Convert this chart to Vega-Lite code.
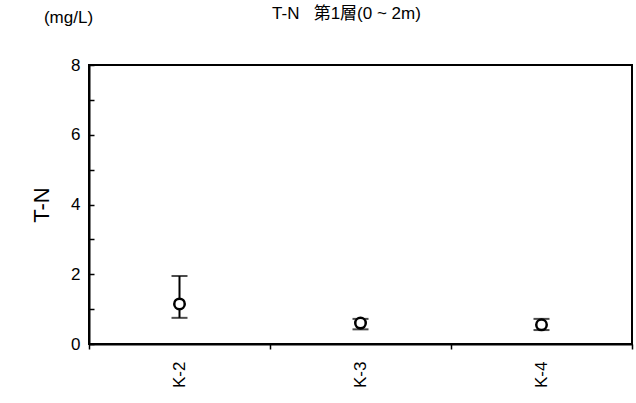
{
  "$schema": "https://vega.github.io/schema/vega-lite/v6.json",
  "autosize": "none",
  "width": 543,
  "height": 279,
  "padding": {"left": 89, "top": 65, "right": 4, "bottom": 59},
  "background": "white",
  "config": {
    "font": "Liberation Sans, Noto Sans CJK JP",
    "view": {"stroke": "black", "strokeWidth": 2},
    "axis": {"grid": false, "domainColor": "black", "tickColor": "black", "labelColor": "black", "titleColor": "black", "labelFont": "Liberation Sans", "titleFont": "Liberation Sans"}
  },
  "title": {
    "text": "T-N\u00a0\u00a0\u00a0第1層(0 ~ 2m)",
    "fontSize": 17,
    "fontWeight": "normal",
    "font": "Liberation Sans, Noto Sans CJK JP",
    "color": "black",
    "anchor": "middle",
    "offset": -15,
    "dx": -14
  },
  "data": {
    "values": [
      {"site": "K-2", "mean": 1.15, "lo": 0.75, "hi": 1.95},
      {"site": "K-3", "mean": 0.6, "lo": 0.42, "hi": 0.72},
      {"site": "K-4", "mean": 0.55, "lo": 0.4, "hi": 0.72}
    ]
  },
  "resolve": {"axis": {"y": "independent"}},
  "layer": [
    {
      "mark": {"type": "rule", "color": "black", "strokeWidth": 2},
      "encoding": {
        "x": {
          "field": "site", "type": "nominal",
          "scale": {"paddingInner": 0, "paddingOuter": 0},
          "axis": {"title": null, "labelAngle": -90, "labelFontSize": 17, "labelPadding": 12, "tickBand": "extent", "tickSize": 5, "tickWidth": 1.5, "domainWidth": 2}
        },
        "y": {
          "field": "lo", "type": "quantitative",
          "scale": {"domain": [0, 8], "nice": false},
          "axis": {"title": "T-N", "titleFontSize": 22, "titleFontWeight": "normal", "titlePadding": 17, "values": [0,1,2,3,4,5,6,7,8], "labelExpr": "datum.value % 2 == 0 ? datum.label : ''", "labelFontSize": 17, "tickSize": -5, "tickWidth": 1.5, "labelPadding": 14, "domainWidth": 2}
        },
        "y2": {"field": "hi"}
      }
    },
    {
      "mark": {"type": "tick", "color": "black", "thickness": 2, "size": 16, "orient": "horizontal"},
      "encoding": {
        "x": {"field": "site", "type": "nominal"},
        "y": {"field": "hi", "type": "quantitative", "axis": {"title": "(mg/L)", "orient": "left", "titleAngle": 0, "titleX": -21, "titleY": -48, "titleAlign": "center", "titleBaseline": "middle", "titleFontSize": 17, "titleFontWeight": "normal", "labels": false, "ticks": false, "domain": false}}
      }
    },
    {
      "mark": {"type": "tick", "color": "black", "thickness": 2, "size": 16, "orient": "horizontal"},
      "encoding": {
        "x": {"field": "site", "type": "nominal"},
        "y": {"field": "lo", "type": "quantitative", "axis": null}
      }
    },
    {
      "mark": {"type": "point", "shape": "circle", "filled": false, "fill": "white", "fillOpacity": 1, "stroke": "black", "strokeWidth": 2.5, "size": 110, "opacity": 1},
      "encoding": {
        "x": {"field": "site", "type": "nominal"},
        "y": {"field": "mean", "type": "quantitative", "axis": null}
      }
    }
  ]
}
